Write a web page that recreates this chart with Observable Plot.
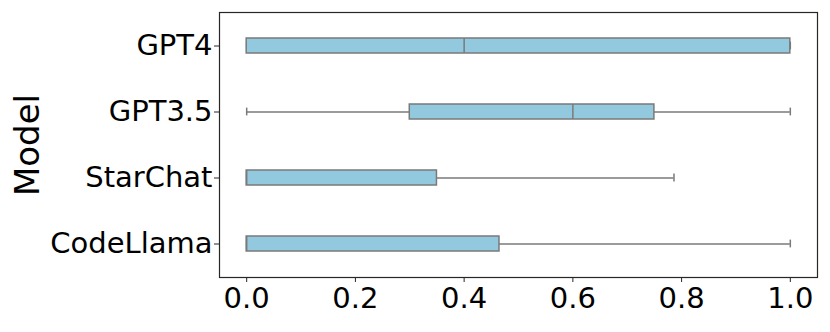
<!DOCTYPE html>
<html>
<head>
<meta charset="utf-8">
<script src="https://cdn.jsdelivr.net/npm/d3@7"></script>
<script src="https://cdn.jsdelivr.net/npm/@observablehq/plot@0.6"></script>
<style>
  html, body { margin: 0; padding: 0; background: #fff; }
  #chart { width: 830px; height: 332px; }
</style>
</head>
<body>
<div id="chart"></div>
<script>
// Data
const models = ["GPT4", "GPT3.5", "StarChat", "CodeLlama"];
const whiskerLow = [0.0, 0.0, 0.0, 0.0];
const q1 = [0.0, 0.3, 0.0, 0.0];
const median = [0.4, 0.6, 0.0, 0.0];
const q3 = [1.0, 0.75, 0.35, 0.465];
const whiskerHigh = [1.0, 1.0, 0.786, 1.0];
const xTicks = [0.0, 0.2, 0.4, 0.6, 0.8, 1.0];
const yLabel = "Model";

const rows = models.map((m, i) => ({
  model: m, lo: whiskerLow[i], q1: q1[i], med: median[i], q3: q3[i], hi: whiskerHigh[i]
}));

const boxFill = "#93c9de";
const lineGray = "#7a7a7a";

const chart = Plot.plot({
  width: 830,
  height: 332,
  marginLeft: 219,
  marginRight: 13,
  marginTop: 12,
  marginBottom: 55,
  style: { fontFamily: "'DejaVu Sans', sans-serif", color: "#000", background: "#fff" },
  x: { domain: [-0.05, 1.05] },
  y: { domain: models, paddingInner: 0.78, paddingOuter: 0.39 },
  marks: [
    // whiskers
    Plot.ruleY(rows, { y: "model", x1: "lo", x2: "q1", stroke: lineGray, strokeWidth: 1.5 }),
    Plot.ruleY(rows, { y: "model", x1: "q3", x2: "hi", stroke: lineGray, strokeWidth: 1.5 }),
    // caps
    Plot.tickX(rows, { x: "lo", y: "model", stroke: lineGray, strokeWidth: 1.5, insetTop: 3.6, insetBottom: 3.6 }),
    Plot.tickX(rows, { x: "hi", y: "model", stroke: lineGray, strokeWidth: 1.5, insetTop: 3.6, insetBottom: 3.6 }),
    // boxes
    Plot.barX(rows, { y: "model", x1: "q1", x2: "q3", fill: boxFill, stroke: lineGray, strokeWidth: 1.5 }),
    // medians
    Plot.tickX(rows, { x: "med", y: "model", stroke: lineGray, strokeWidth: 1.5 }),
    Plot.frame({ stroke: "#262626", strokeWidth: 1.2 }),
    Plot.axisX({ ticks: xTicks, tickFormat: d3.format(".1f"), tickSize: 5, tickPadding: 5, fontSize: 29, label: null, stroke: "#262626" }),
    Plot.axisY({ tickSize: 5, tickPadding: 2, fontSize: 29, label: null, stroke: "#262626" }),
    Plot.text([yLabel], { frameAnchor: "left", textAnchor: "middle", rotate: -90, dx: -191, fontSize: 34, fill: "#000" })
  ]
});
document.getElementById("chart").appendChild(chart);
</script>
</body>
</html>
